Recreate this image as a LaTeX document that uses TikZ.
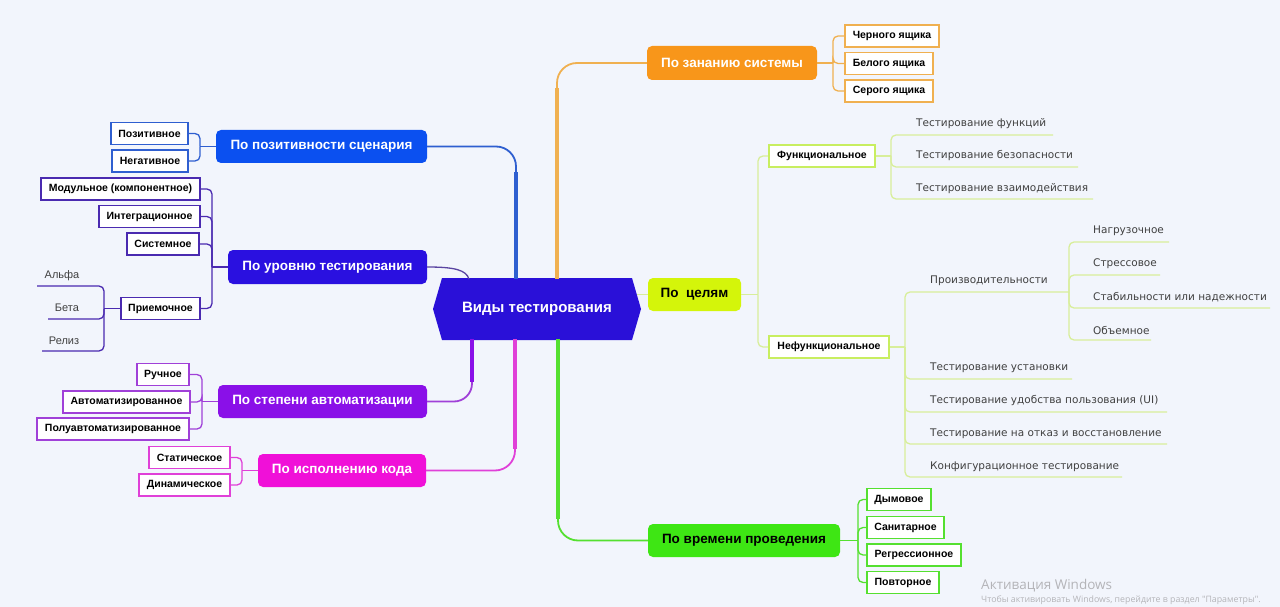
\documentclass[tikz,border=0pt]{standalone}
\usepackage{fontspec}
\setmainfont{Liberation Sans}
\newfontfamily\leaffont{DejaVu Sans}
\newfontfamily\wmfont{Open Sans}

\definecolor{bgcol}{HTML}{F2F5FC}
\definecolor{corecol}{HTML}{2A10D8}
\definecolor{poscol}{HTML}{0B50F0}
\definecolor{posline}{HTML}{2F5FD0}
\definecolor{urvcol}{HTML}{2A10E0}
\definecolor{urvline}{HTML}{4A2AB0}
\definecolor{avtcol}{HTML}{8A10E8}
\definecolor{avtline}{HTML}{A040D8}
\definecolor{kodcol}{HTML}{F010D8}
\definecolor{kodline}{HTML}{E040D8}
\definecolor{zncol}{HTML}{F8961A}
\definecolor{znline}{HTML}{F0B050}
\definecolor{celcol}{HTML}{D4F50A}
\definecolor{celbox}{HTML}{C8EE60}
\definecolor{celline}{HTML}{D8EE9A}
\definecolor{vrcol}{HTML}{3EE614}
\definecolor{vrline}{HTML}{55E030}
\definecolor{wmcol}{HTML}{B4B4B8}

\tikzset{
  branch/.style={rounded corners=5pt, text=white, inner sep=0pt,
    font=\bfseries\fontsize{13.5}{15}\selectfont},
  subbox/.style={draw, line width=1.6pt, fill=white, inner sep=0pt,
    minimum height=22, font=\bfseries\fontsize{10.5}{12}\selectfont},
  leaf/.style={anchor=west, inner sep=0pt, text=black!75,
    font=\leaffont\fontsize{10.5}{12}\selectfont},
  leafalt/.style={inner sep=0pt, text=black!75,
    font=\fontsize{11}{13}\selectfont},
  twig/.style={line width=1.3pt, rounded corners=5pt},
  trunk/.style={line width=4pt},
  curl/.style={line width=1.8pt, rounded corners=20pt},
}

\begin{document}
\begin{tikzpicture}[x=1pt, y=-1pt]
    \useasboundingbox[fill=bgcol] (0,0) rectangle (1280,607);

    % Center
    \fill[corecol] (442,278) -- (632,278) -- (641,309) -- (632,340) -- (442,340) -- (433,309) -- cycle;
    \node (core) at (537,309) [text=white, font=\bfseries\fontsize{15}{17}\selectfont] {Виды тестирования};
    \coordinate (core-pos) at (516,279);
    \coordinate (core-zn) at (557,279);
    \coordinate (core-urv) at (469,279);
    \coordinate (core-cel) at (637,294.5);
    \coordinate (core-avt) at (472,339);
    \coordinate (core-kod) at (515,339);
    \coordinate (core-vr) at (558,339);

    % Branches
    \node[branch, fill=poscol, minimum width=211, minimum height=33] (pozit) at (321.5,146.5) {По позитивности сценария};
    \node[branch, fill=urvcol, minimum width=199, minimum height=34] (urov) at (327.5,267) {По уровню тестирования};
    \node[branch, fill=avtcol, minimum width=209, minimum height=33] (avto) at (322.5,401.5) {По степени автоматизации};
    \node[branch, fill=kodcol, minimum width=168, minimum height=33] (kod) at (342,470.5) {По исполнению кода};
    \node[branch, fill=zncol, minimum width=170, minimum height=34] (znan) at (732,63) {По зананию системы};
    \node[branch, fill=celcol, text=black, minimum width=93, minimum height=33] (celi) at (694.5,294.5) {По\ \ целям};
    \node[branch, fill=vrcol, text=black, minimum width=192, minimum height=33] (vrem) at (744,540.5) {По времени проведения};

    % Left boxes
    \node[subbox, draw=posline, minimum width=77] (poz1) at (149.5,133.5) {Позитивное};
    \node[subbox, draw=posline, minimum width=76] (poz2) at (150,161) {Негативное};
    \node[subbox, draw=urvline, minimum width=159] (urv1) at (120.5,189) {Модульное (компонентное)};
    \node[subbox, draw=urvline, minimum width=101] (urv2) at (149.5,216.5) {Интеграционное};
    \node[subbox, draw=urvline, minimum width=72] (urv3) at (163,244) {Системное};
    \node[subbox, draw=urvline, minimum width=79] (urv4) at (160.5,308.5) {Приемочное};
    \node[subbox, draw=avtline, minimum width=52] (avt1) at (163,374.5) {Ручное};
    \node[subbox, draw=avtline, minimum width=127] (avt2) at (126.5,402) {Автоматизированное};
    \node[subbox, draw=avtline, minimum width=152] (avt3) at (113,429) {Полуавтоматизированное};
    \node[subbox, draw=kodline, minimum width=81] (kod1) at (189.5,457.5) {Статическое};
    \node[subbox, draw=kodline, minimum width=91] (kod2) at (184.5,485) {Динамическое};

    \node[leafalt] (alpha) at (62,276) {Альфа};
    \node[leafalt] (beta) at (67,308) {Бета};
    \node[leafalt] (reliz) at (64,341) {Релиз};
    \coordinate (alpha-end) at (37,286);
    \coordinate (beta-end) at (48,319);
    \coordinate (reliz-end) at (42,351);

    % Right boxes
    \node[subbox, draw=znline, minimum width=94] (zn1) at (892,36) {Черного ящика};
    \node[subbox, draw=znline, minimum width=88] (zn2) at (889,63.5) {Белого ящика};
    \node[subbox, draw=znline, minimum width=88] (zn3) at (889,91) {Серого ящика};
    \node[subbox, draw=celbox, minimum width=106] (func) at (822,156) {Функциональное};
    \node[subbox, draw=celbox, minimum width=120] (nefunc) at (829,347) {Нефункциональное};
    \node[subbox, draw=vrline, minimum width=64] (vr1) at (899,499.5) {Дымовое};
    \node[subbox, draw=vrline, minimum width=77] (vr2) at (905.5,527.5) {Санитарное};
    \node[subbox, draw=vrline, minimum width=94] (vr3) at (914,555) {Регрессионное};
    \node[subbox, draw=vrline, minimum width=72] (vr4) at (903,582.5) {Повторное};

    \node[leaf] (f1) at (916,124) {Тестирование функций};
    \node[leaf] (f2) at (916,156) {Тестирование безопасности};
    \node[leaf] (f3) at (916,189) {Тестирование взаимодействия};
    \coordinate (f1-end) at (1053,135);
    \coordinate (f2-end) at (1078,167);
    \coordinate (f3-end) at (1093,199);

    \node[leaf] (perf) at (930,281) {Производительности};
    \node[leaf] (n1) at (930,368) {Тестирование установки};
    \node[leaf] (n2) at (930,401) {Тестирование удобства пользования (UI)};
    \node[leaf] (n3) at (930,434) {Тестирование на отказ и восстановление};
    \node[leaf] (n4) at (930,467) {Конфигурационное тестирование};
    \coordinate (n1-end) at (1072,379);
    \coordinate (n2-end) at (1167,412);
    \coordinate (n3-end) at (1167,444);
    \coordinate (n4-end) at (1122,477);

    \node[leaf] (p1) at (1093,231) {Нагрузочное};
    \node[leaf] (p2) at (1093,264) {Стрессовое};
    \node[leaf] (p3) at (1093,297) {Стабильности или надежности};
    \node[leaf] (p4) at (1093,330) {Объемное};
    \coordinate (p1-end) at (1169,242);
    \coordinate (p2-end) at (1160,275);
    \coordinate (p3-end) at (1270,308);
    \coordinate (p4-end) at (1151,340);

    % Junctions
    \coordinate (pozit-j) at (200,146.5);
    \coordinate (urov-j) at (212,267);
    \coordinate (urv4-j) at (104,308.5);
    \coordinate (avto-j) at (202,401.5);
    \coordinate (kod-j) at (242,470.5);
    \coordinate (znan-j) at (833,63);
    \coordinate (celi-j) at (758,294.5);
    \coordinate (func-j) at (891,156);
    \coordinate (nefunc-j) at (905,347);
    \coordinate (perf-j) at (1069,292);
    \coordinate (vrem-j) at (858,540.5);

    % Trunks
    \coordinate (pos-knee) at (516,172);
    \coordinate (zn-knee) at (557,88);
    \coordinate (avt-knee) at (472,382);
    \coordinate (kod-knee) at (515,449);
    \coordinate (vr-knee) at (558,519);
    \draw[trunk, posline] (core-pos) -- (pos-knee);
    \draw[curl, posline] (pos-knee) |- (pozit.east);
    \draw[trunk, znline] (core-zn) -- (zn-knee);
    \draw[curl, znline] (zn-knee) |- (znan.west);
    \draw[trunk, avtcol] (core-avt) -- (avt-knee);
    \draw[curl, avtline, rounded corners=18pt] (avt-knee) |- (avto.east);
    \draw[trunk, kodline] (core-kod) -- (kod-knee);
    \draw[curl, kodline] (kod-knee) |- (kod.east);
    \draw[trunk, vrline] (core-vr) -- (vr-knee);
    \draw[curl, vrline] (vr-knee) |- (vrem.west);
    \draw[twig, urvline!70!gray] (urov.east) .. controls (455,267) and (466,270) .. (core-urv);
    \draw[twig, celline] (core-cel) -- (celi.west);

    % Lines
    \draw[twig, posline] (pozit.west) -- (pozit-j);
    \foreach \c in {poz1,poz2} \draw[twig, posline] (pozit-j) |- (\c.east);
    \draw[twig, urvline] (urov.west) -- (urov-j);
    \foreach \c in {urv1,urv2,urv3,urv4} \draw[twig, urvline] (urov-j) |- (\c.east);
    \draw[twig, urvline] (urv4.west) -- (urv4-j);
    \foreach \c in {alpha,beta,reliz} \draw[twig, urvline] (urv4-j) |- (\c-end);
    \draw[twig, avtline] (avto.west) -- (avto-j);
    \foreach \c in {avt1,avt2,avt3} \draw[twig, avtline] (avto-j) |- (\c.east);
    \draw[twig, kodline] (kod.west) -- (kod-j);
    \foreach \c in {kod1,kod2} \draw[twig, kodline] (kod-j) |- (\c.east);
    \draw[twig, znline] (znan.east) -- (znan-j);
    \foreach \c in {zn1,zn2,zn3} \draw[twig, znline] (znan-j) |- (\c.west);
    \draw[twig, celline] (celi.east) -- (celi-j);
    \foreach \c in {func,nefunc} \draw[twig, celline] (celi-j) |- (\c.west);
    \draw[twig, celline] (func.east) -- (func-j);
    \foreach \c in {f1,f2,f3} \draw[twig, celline] (func-j) |- (\c-end);
    \draw[twig, celline] (nefunc.east) -- (nefunc-j);
    \draw[twig, celline] (nefunc-j) |- (perf-j);
    \foreach \c in {n1,n2,n3,n4} \draw[twig, celline] (nefunc-j) |- (\c-end);
    \foreach \c in {p1,p2,p3,p4} \draw[twig, celline] (perf-j) |- (\c-end);
    \draw[twig, vrline] (vrem.east) -- (vrem-j);
    \foreach \c in {vr1,vr2,vr3,vr4} \draw[twig, vrline] (vrem-j) |- (\c.west);

    % Watermark
    \node[anchor=west, inner sep=0pt, text=wmcol, font=\wmfont\fontsize{13.5}{15}\selectfont] (wm1) at (981,586) {Активация Windows};
    \node[anchor=west, inner sep=0pt, text=wmcol, font=\wmfont\fontsize{8.8}{10}\selectfont] (wm2) at (981,600) {Чтобы активировать Windows, перейдите в раздел "Параметры".};
\end{tikzpicture}
\end{document}
